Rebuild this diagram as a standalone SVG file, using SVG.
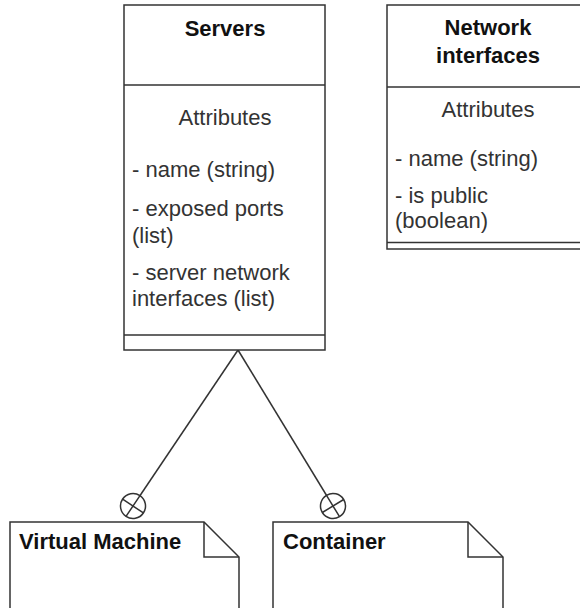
<svg xmlns="http://www.w3.org/2000/svg" width="580" height="608" viewBox="0 0 580 608">
<defs>
<style>
.box{fill:#fff;stroke:#333;stroke-width:1.5}
.ln{fill:none;stroke:#333;stroke-width:1.5}
.t{font-family:"Liberation Sans",Arial,sans-serif;font-size:22px;fill:#333}
.b{font-family:"Liberation Sans",Arial,sans-serif;font-size:22px;font-weight:bold;fill:#111}
.c{text-anchor:middle}
</style>
<marker id="cplus" markerUnits="userSpaceOnUse" viewBox="-15 -15 30 30" markerWidth="30" markerHeight="30" refX="0" refY="0" orient="auto">
<circle cx="0" cy="0" r="12.5" fill="#fff" stroke="#333" stroke-width="1.5"/>
<path d="M-12.5 0H12.5M0 -12.5V12.5" stroke="#333" stroke-width="1.5" fill="none"/>
</marker>
</defs>
<rect width="580" height="608" fill="#fff"/>
<g id="connectors">
<path class="ln" d="M238 350L133 506" marker-end="url(#cplus)"/>
<path class="ln" d="M238 350L333 506" marker-end="url(#cplus)"/>
</g>
<g id="servers">
<rect class="box" x="124" y="5" width="201" height="345"/>
<path class="ln" d="M124 85H325M124 335H325"/>
<text class="b c" x="225" y="36">Servers</text>
<text class="t c" x="225" y="125">Attributes</text>
<text class="t" x="132" y="177">- name (string)</text>
<text class="t" x="132" y="216">- exposed ports</text>
<text class="t" x="132" y="243">(list)</text>
<text class="t" x="132" y="280">- server network</text>
<text class="t" x="132" y="306">interfaces (list)</text>
</g>
<g id="network-interfaces">
<rect class="box" x="387" y="5" width="202" height="244"/>
<path class="ln" d="M387 87H589M387 242.5H589"/>
<text class="b c" x="488" y="35">Network</text>
<text class="b c" x="488" y="63">interfaces</text>
<text class="t c" x="488" y="117">Attributes</text>
<text class="t" x="395" y="166">- name (string)</text>
<text class="t" x="395" y="203">- is public</text>
<text class="t" x="395" y="228">(boolean)</text>
</g>
<g id="virtual-machine">
<path class="box" d="M10 522H204L239 557V612H10Z"/>
<path class="ln" d="M204 522V557H239"/>
<text class="b" x="19" y="549">Virtual Machine</text>
</g>
<g id="container">
<path class="box" d="M273 522H468L503 557V612H273Z"/>
<path class="ln" d="M468 522V557H503"/>
<text class="b" x="283" y="549">Container</text>
</g>
</svg>
